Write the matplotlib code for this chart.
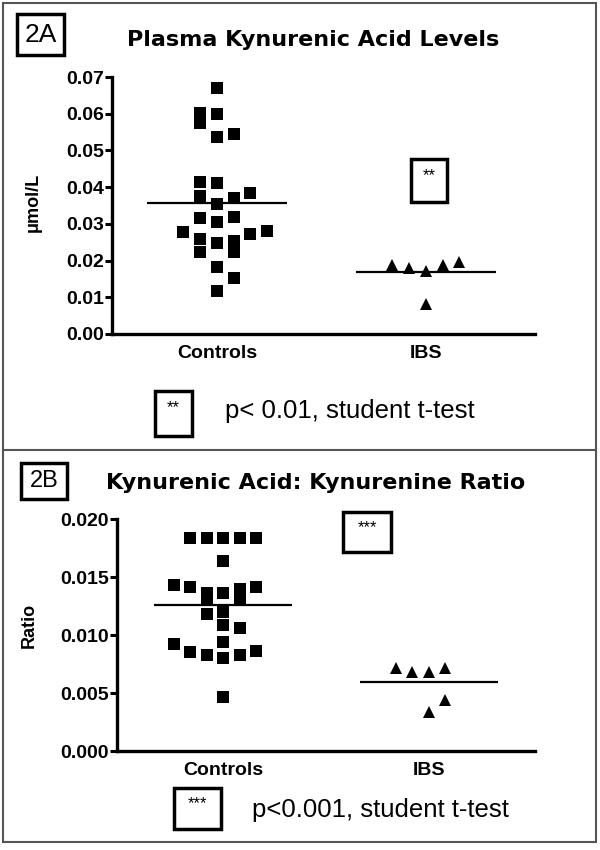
import numpy as np
import matplotlib as mpl
mpl.use('Agg')
import matplotlib.pyplot as plt
from matplotlib.patches import Rectangle

plt.rcParams['font.family'] = ['Liberation Sans', 'DejaVu Sans']

groups = ['Controls', 'IBS']

# 2A plasma kynurenic acid (umol/L)
kyna_controls = [0.0669, 0.0603, 0.0600, 0.0574, 0.0546, 0.0537, 0.0413, 0.0410,
                 0.0383, 0.0375, 0.0370, 0.0353, 0.0320, 0.0315, 0.0305, 0.0280,
                 0.0278, 0.0272, 0.0259, 0.0252, 0.0248, 0.0224, 0.0223, 0.0183,
                 0.0152, 0.0117]
kyna_ibs = [0.0189, 0.0181, 0.0172, 0.0189, 0.0196, 0.0081]
kyna_ticks = [0.00, 0.01, 0.02, 0.03, 0.04, 0.05, 0.06, 0.07]

# 2B kynurenic acid : kynurenine ratio
ratio_controls = [0.01835, 0.01835, 0.01835, 0.01835, 0.0184, 0.01641, 0.01433,
                  0.01413, 0.01359, 0.01359, 0.01393, 0.01413, 0.01302, 0.01299,
                  0.01179, 0.01202, 0.01085, 0.01057, 0.00923, 0.00943, 0.00852,
                  0.00829, 0.00801, 0.00829, 0.00866, 0.00468]
ratio_ibs = [0.00715, 0.00681, 0.00681, 0.00715, 0.00438, 0.00339]
ratio_ticks = [0.000, 0.005, 0.010, 0.015, 0.020]

# scatter column slots (layout only)
kyna_ctrl_slot = [0, -1, 0, -1, 1, 0, -1, 0, 2, -1, 1, 0, 1, -1, 0, 3,
                  -2, 2, -1, 1, 0, 1, -1, 0, 1, 0]
kyna_ibs_slot = [-2, -1, 0, 1, 2, 0]
ratio_ctrl_slot = [-2, -1, 0, 1, 2, 0, -3, -2, -1, 0, 1, 2, -1, 1,
                   -1, 0, 0, 1, -3, 0, -2, -1, 0, 1, 2, 0]
ratio_ibs_slot = [-2, -1, 0, 1, 1, 0]

W, H = 600, 850
fig = plt.figure(figsize=(6, 8.5), dpi=100)


def fx(px):
    return px / W


def fy(py):
    return 1 - py / H


def box(x0, y0, x1, y1, lw=2.5, ec='black'):
    fig.patches.append(Rectangle((fx(x0), fy(y1)), (x1 - x0) / W, (y1 - y0) / H,
                                 transform=fig.transFigure, fill=False, lw=lw, ec=ec))


def panel(left, right, bottom, top, xlim, ylim, ticks, fmt, ctrl, cslot, ibs, islot, ylabel, ylab_xy):
    ax = fig.add_axes([fx(left), fy(bottom), (right - left) / W, (bottom - top) / H])
    step = 0.08
    ax.plot(np.array(cslot) * step, ctrl, 's', ms=8, color='black', mew=0)
    ax.plot(1 + np.array(islot) * step, ibs, '^', ms=8, color='black', mew=0)
    for i, vals in enumerate([ctrl, ibs]):
        ax.hlines(np.mean(vals), i - 0.335, i + 0.335, color='black', lw=1.6)
    ax.set_xlim(xlim)
    ax.set_ylim(ylim)
    ax.set_yticks(ticks)
    ax.set_yticklabels([fmt % t for t in ticks], fontweight='bold', fontsize=14)
    ax.set_xticks([0, 1])
    ax.set_xticklabels(groups, fontweight='bold', fontsize=14)
    ax.tick_params(axis='x', length=0, pad=8)
    ax.tick_params(axis='y', length=5, width=2.2, pad=1)
    for s in ['top', 'right']:
        ax.spines[s].set_visible(False)
    for s in ['left', 'bottom']:
        ax.spines[s].set_linewidth(2.4)
    ax.set_ylabel(ylabel, fontweight='bold', fontsize=13)
    ax.yaxis.set_label_coords(*ylab_xy)
    ax.patch.set_alpha(0)
    return ax


# panel A
panel(112, 535, 334, 77, (-0.502, 1.522), (0, 0.07), kyna_ticks, '%.2f',
      kyna_controls, kyna_ctrl_slot, kyna_ibs, kyna_ibs_slot, '\u03bcmol/L', (-0.165, 0.51))
fig.text(fx(313), fy(40), 'Plasma Kynurenic Acid Levels', ha='center', va='center',
         fontsize=16, fontweight='bold', family='DejaVu Sans')
box(17, 14, 64, 55)
fig.text(fx(40.5), fy(35), '2A', ha='center', va='center', fontsize=19)
box(411, 159, 447, 202)
fig.text(fx(429), fy(176), '**', ha='center', va='center', fontsize=12)
box(155, 391, 192, 436)
fig.text(fx(173.5), fy(408), '**', ha='center', va='center', fontsize=12)
fig.text(fx(225), fy(411), 'p< 0.01, student t-test', ha='left', va='center', fontsize=18.5)

# panel B
panel(117, 535, 751, 519, (-0.515, 1.515), (0, 0.020), ratio_ticks, '%.3f',
      ratio_controls, ratio_ctrl_slot, ratio_ibs, ratio_ibs_slot, 'Ratio', (-0.189, 0.543))
fig.text(fx(316), fy(483), 'Kynurenic Acid: Kynurenine Ratio', ha='center', va='center',
         fontsize=16, fontweight='bold', family='DejaVu Sans')
box(21, 463, 67, 499)
fig.text(fx(44), fy(481), '2B', ha='center', va='center', fontsize=17)
box(343, 512, 391, 552)
fig.text(fx(367), fy(528), '***', ha='center', va='center', fontsize=12)
box(174, 788, 221, 829)
fig.text(fx(197.5), fy(804), '***', ha='center', va='center', fontsize=12)
fig.text(fx(252), fy(810), 'p<0.001, student t-test', ha='left', va='center', fontsize=18.5)

# outer frame and separator
box(3, 3, 596, 842, lw=1.5, ec='#555555')
fig.lines.append(plt.Line2D([fx(3), fx(596)], [fy(450), fy(450)], transform=fig.transFigure,
                            color='#555555', lw=1.5))

fig.savefig('out.png', dpi=100)
